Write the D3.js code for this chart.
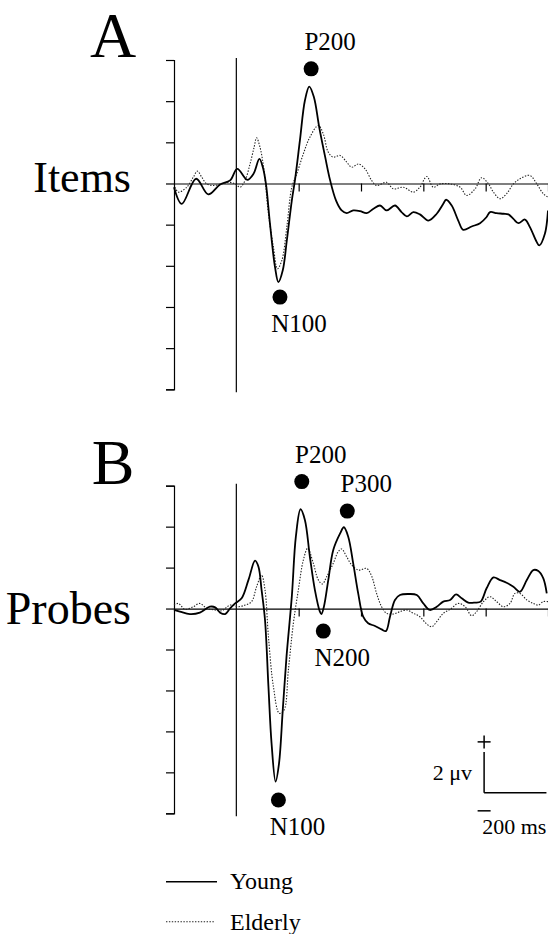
<!DOCTYPE html>
<html lang="en">
<head>
    <meta charset="UTF-8">
    <title>ERP Items / Probes</title>
    <script src="https://d3js.org/d3.v7.min.js"></script>
    <style>
        body {
            margin: 0;
            background-color: #fff;
        }
        svg text {
            font-family: "Liberation Serif", "Times New Roman", serif;
            fill: #000;
        }
        .axis path, .axis line {
            stroke: #000;
            stroke-width: 1.2;
        }
        .young {
            fill: none;
            stroke: #000;
            stroke-width: 1.8;
        }
        .elderly {
            fill: none;
            stroke: #222;
            stroke-width: 1.1;
            stroke-dasharray: 1.4 1.5;
        }
    </style>
</head>
<body>
<svg id="chart" width="548" height="934"></svg>

<script>
    // time (ms) and amplitude (µV)
    const itemsYoungMs = [-200, -175, -129, -90, -52, -20, 3, 35, 55, 74, 85, 95, 108, 124, 135, 149, 162, 178, 188, 204, 220, 234, 249, 266, 285, 301, 320, 338, 354, 375, 397, 418, 440, 461, 482, 509, 530, 547, 568, 589, 616, 643, 664, 673, 691, 712, 728, 755, 782, 803, 814, 835, 857, 873, 889, 905, 926, 942, 964, 972, 990, 1000];
    const itemsYoungUv = [-0.18, -0.99, 0.23, -0.53, -0.05, 0.15, 0.71, 0.18, 0.47, 1.20, 0.79, -0.02, -1.96, -4.05, -4.79, -4.22, -2.77, -0.83, 0.15, 2.09, 4.03, 4.71, 4.19, 2.73, 1.29, 0.15, -0.83, -1.31, -1.44, -1.31, -1.34, -1.44, -1.23, -1.07, -1.31, -1.07, -1.39, -1.60, -1.39, -1.50, -1.80, -1.47, -0.99, -0.79, -1.07, -1.80, -2.25, -2.09, -1.93, -1.63, -1.39, -1.44, -1.47, -1.50, -1.72, -1.93, -1.75, -2.12, -2.85, -3.01, -2.44, -1.31];

    const itemsElderlyMs = [-197, -186, -159, -138, -125, -111, -95, -74, -47, -26, -4, 12, 28, 44, 57, 65, 76, 89, 103, 119, 132, 146, 162, 178, 194, 215, 236, 263, 279, 295, 311, 333, 354, 370, 392, 413, 434, 450, 482, 504, 536, 568, 589, 611, 632, 654, 686, 718, 739, 766, 787, 809, 825, 846, 867, 889, 910, 942, 964, 985, 1000];
    const itemsElderlyUv = [-0.18, -0.42, -0.18, 0.31, 0.60, 0.31, -0.02, -0.10, -0.02, 0.06, -0.02, -0.18, 0.15, 0.95, 1.76, 2.22, 1.76, 0.63, -1.47, -3.09, -4.14, -3.74, -2.12, -0.18, 0.47, 1.44, 2.25, 2.82, 2.41, 1.52, 1.28, 1.36, 1.04, 0.79, 0.95, 0.71, 0.15, -0.10, 0.06, -0.26, -0.18, -0.42, -0.18, 0.34, -0.18, -0.02, -0.02, -0.18, -0.58, -0.26, 0.28, -0.02, -0.42, -0.74, -0.50, -0.02, 0.23, 0.39, -0.02, -0.50, -0.66];

    const probesYoungMs = [-200, -181, -149, -117, -85, -68, -52, -36, -20, -4, 17, 39, 60, 71, 81, 92, 103, 113, 126, 137, 149, 161, 178, 191, 206, 220, 236, 252, 268, 273, 281, 295, 311, 333, 345, 359, 375, 391, 407, 423, 445, 466, 480, 493, 509, 525, 552, 579, 600, 621, 643, 664, 686, 705, 723, 744, 766, 784, 803, 825, 846, 867, 889, 910, 932, 953, 969, 985, 996];
    const probesYoungUv = [-0.07, -0.15, -0.27, -0.20, 0.09, 0.06, -0.20, -0.27, 0.01, 0.25, 0.50, 1.40, 2.34, 2.04, 0.91, -0.56, -3.81, -6.58, -8.45, -7.56, -4.95, -2.35, 0.58, 3.51, 4.85, 4.33, 2.53, 0.91, -0.15, -0.27, 0.09, 1.39, 2.86, 3.67, 3.97, 3.51, 2.21, 0.74, -0.40, -0.72, -0.85, -1.02, -1.10, -0.40, 0.42, 0.66, 0.71, 0.66, 0.25, -0.07, 0.09, 0.34, 0.42, 0.69, 0.50, 0.29, 0.29, 0.34, 0.99, 1.52, 1.39, 1.26, 1.07, 0.82, 1.39, 1.88, 1.83, 1.47, 0.74];

    const probesElderlyMs = [-200, -186, -165, -138, -117, -95, -68, -47, -20, 6, 28, 49, 65, 81, 92, 103, 119, 138, 153, 167, 183, 199, 215, 229, 247, 263, 276, 290, 311, 327, 338, 354, 370, 392, 418, 434, 450, 466, 482, 504, 525, 547, 568, 589, 611, 627, 643, 664, 686, 712, 734, 755, 771, 793, 814, 835, 857, 878, 894, 910, 932, 953, 969, 985, 1000];
    const probesElderlyUv = [0.17, 0.25, -0.04, 0.09, 0.25, 0.01, -0.07, -0.11, 0.17, 0.09, 0.17, 0.34, 1.07, 1.63, 0.91, -1.37, -3.82, -5.12, -4.96, -3.00, -0.72, 0.91, 2.37, 2.94, 2.21, 1.40, 1.20, 1.56, 2.21, 2.78, 2.91, 2.53, 2.13, 1.88, 1.96, 1.59, 0.74, 0.09, -0.23, -0.27, -0.15, -0.07, -0.23, -0.40, -0.76, -0.89, -0.64, -0.23, -0.04, 0.25, 0.09, -0.35, -0.15, 0.34, 0.58, 0.34, 0.09, 0.25, 0.74, 0.74, 0.42, 0.25, 0.17, 0.34, 0.34];

    // peak markers: name, latency (ms), amplitude (µV), label above/below
    const itemsPeaks = [
        { name: "P200", ms: 240, uv: 5.57, above: true },
        { name: "N100", ms: 140, uv: -5.52, above: false }
    ];
    const probesPeaks = [
        { name: "P200", ms: 210, uv: 6.2, above: true },
        { name: "P300", ms: 356, uv: 4.76, above: true },
        { name: "N200", ms: 279, uv: -1.1, above: false },
        { name: "N100", ms: 135, uv: -9.35, above: false }
    ];

    const timeDomain = [-200, 1000];
    const uvDomain = [-10, 6];
    const xTicks = [200, 400, 600, 800, 1000];
    const yTicks = [-10, -8, -6, -4, -2, 0, 2, 4, 6];

    const svg = d3.select("#chart");

    const x = d3.scaleLinear().domain(timeDomain).range([174, 548]);

    const line = d3.line()
        .x(d => x(d[0]))
        .y(d => d[1])
        .curve(d3.curveCatmullRom.alpha(0.5));

    function drawPanel(cfg) {
        const y = d3.scaleLinear().domain(uvDomain).range(cfg.yRange);
        const g = svg.append("g");

        // y axis, no labels
        g.append("g")
            .attr("class", "axis")
            .attr("transform", `translate(${x(-200)},0)`)
            .call(d3.axisLeft(y).tickValues(yTicks).tickSize(8).tickFormat(""));

        // zero line with time ticks
        g.append("g")
            .attr("class", "axis")
            .attr("transform", `translate(0,${y(0)})`)
            .call(d3.axisBottom(x).tickValues(xTicks).tickSize(8).tickSizeOuter(0).tickFormat(""));

        // stimulus onset
        g.append("line")
            .attr("x1", x(0)).attr("x2", x(0))
            .attr("y1", y(6) - 2).attr("y2", y(-10) + 3)
            .attr("stroke", "#000").attr("stroke-width", 1.2);

        g.append("path")
            .attr("class", "elderly")
            .attr("d", line(cfg.elderlyMs.map((t, i) => [t, y(cfg.elderlyUv[i])])));

        g.append("path")
            .attr("class", "young")
            .attr("d", line(cfg.youngMs.map((t, i) => [t, y(cfg.youngUv[i])])));

        const peaks = g.selectAll(".peak").data(cfg.peaks).enter().append("g");
        peaks.append("circle")
            .attr("cx", d => x(d.ms))
            .attr("cy", d => y(d.uv))
            .attr("r", 7.5)
            .attr("fill", "#000");
        peaks.append("text")
            .attr("x", d => x(d.ms) + 19)
            .attr("y", d => y(d.uv) + (d.above ? -19 : 35))
            .attr("text-anchor", "middle")
            .attr("font-size", 25)
            .text(d => d.name);

        g.append("text")
            .attr("x", 113).attr("y", cfg.letterY)
            .attr("text-anchor", "middle")
            .attr("font-size", 64)
            .text(cfg.letter);

        g.append("text")
            .attr("x", 131).attr("y", cfg.titleY)
            .attr("text-anchor", "end")
            .attr("font-size", cfg.titleSize)
            .text(cfg.title);

        return y;
    }

    drawPanel({
        letter: "A", letterY: 57, title: "Items", titleY: 192, titleSize: 44,
        yRange: [389.3, 60],
        youngMs: itemsYoungMs, youngUv: itemsYoungUv,
        elderlyMs: itemsElderlyMs, elderlyUv: itemsElderlyUv,
        peaks: itemsPeaks
    });

    const yB = drawPanel({
        letter: "B", letterY: 484, title: "Probes", titleY: 624, titleSize: 46,
        yRange: [813.3, 485.7],
        youngMs: probesYoungMs, youngUv: probesYoungUv,
        elderlyMs: probesElderlyMs, elderlyUv: probesElderlyUv,
        peaks: probesPeaks
    });

    // calibration bar: 2 µV by 200 ms
    const sb = svg.append("g").attr("stroke", "#000").attr("stroke-width", 1.5);
    const sx = x(795), sy = yB(-9);
    sb.append("line").attr("x1", sx).attr("x2", sx).attr("y1", yB(-7)).attr("y2", sy);
    sb.append("line").attr("x1", sx).attr("x2", x(995)).attr("y1", sy).attr("y2", sy);
    // plus / minus signs
    sb.append("line").attr("x1", sx - 6.5).attr("x2", sx + 6.5).attr("y1", yB(-7) - 10).attr("y2", yB(-7) - 10);
    sb.append("line").attr("x1", sx).attr("x2", sx).attr("y1", yB(-7) - 16.5).attr("y2", yB(-7) - 3.5);
    sb.append("line").attr("x1", sx - 6.5).attr("x2", sx + 6.5).attr("y1", sy + 18).attr("y2", sy + 18);

    svg.append("text")
        .attr("x", sx - 12).attr("y", 780)
        .attr("text-anchor", "end")
        .attr("font-size", 22)
        .text("2 \u03bcv");
    svg.append("text")
        .attr("x", x(995)).attr("y", 834)
        .attr("text-anchor", "end")
        .attr("font-size", 22)
        .text("200 ms");

    // legend
    const legend = svg.append("g");
    legend.append("line")
        .attr("x1", 166).attr("x2", 217).attr("y1", 881.7).attr("y2", 881.7)
        .attr("stroke", "#000").attr("stroke-width", 1.5);
    legend.append("text").attr("x", 230).attr("y", 889).attr("font-size", 24).text("Young");
    legend.append("line")
        .attr("x1", 166).attr("x2", 214).attr("y1", 921.7).attr("y2", 921.7)
        .attr("class", "elderly");
    legend.append("text").attr("x", 230).attr("y", 930).attr("font-size", 24).text("Elderly");
</script>
</body>
</html>
